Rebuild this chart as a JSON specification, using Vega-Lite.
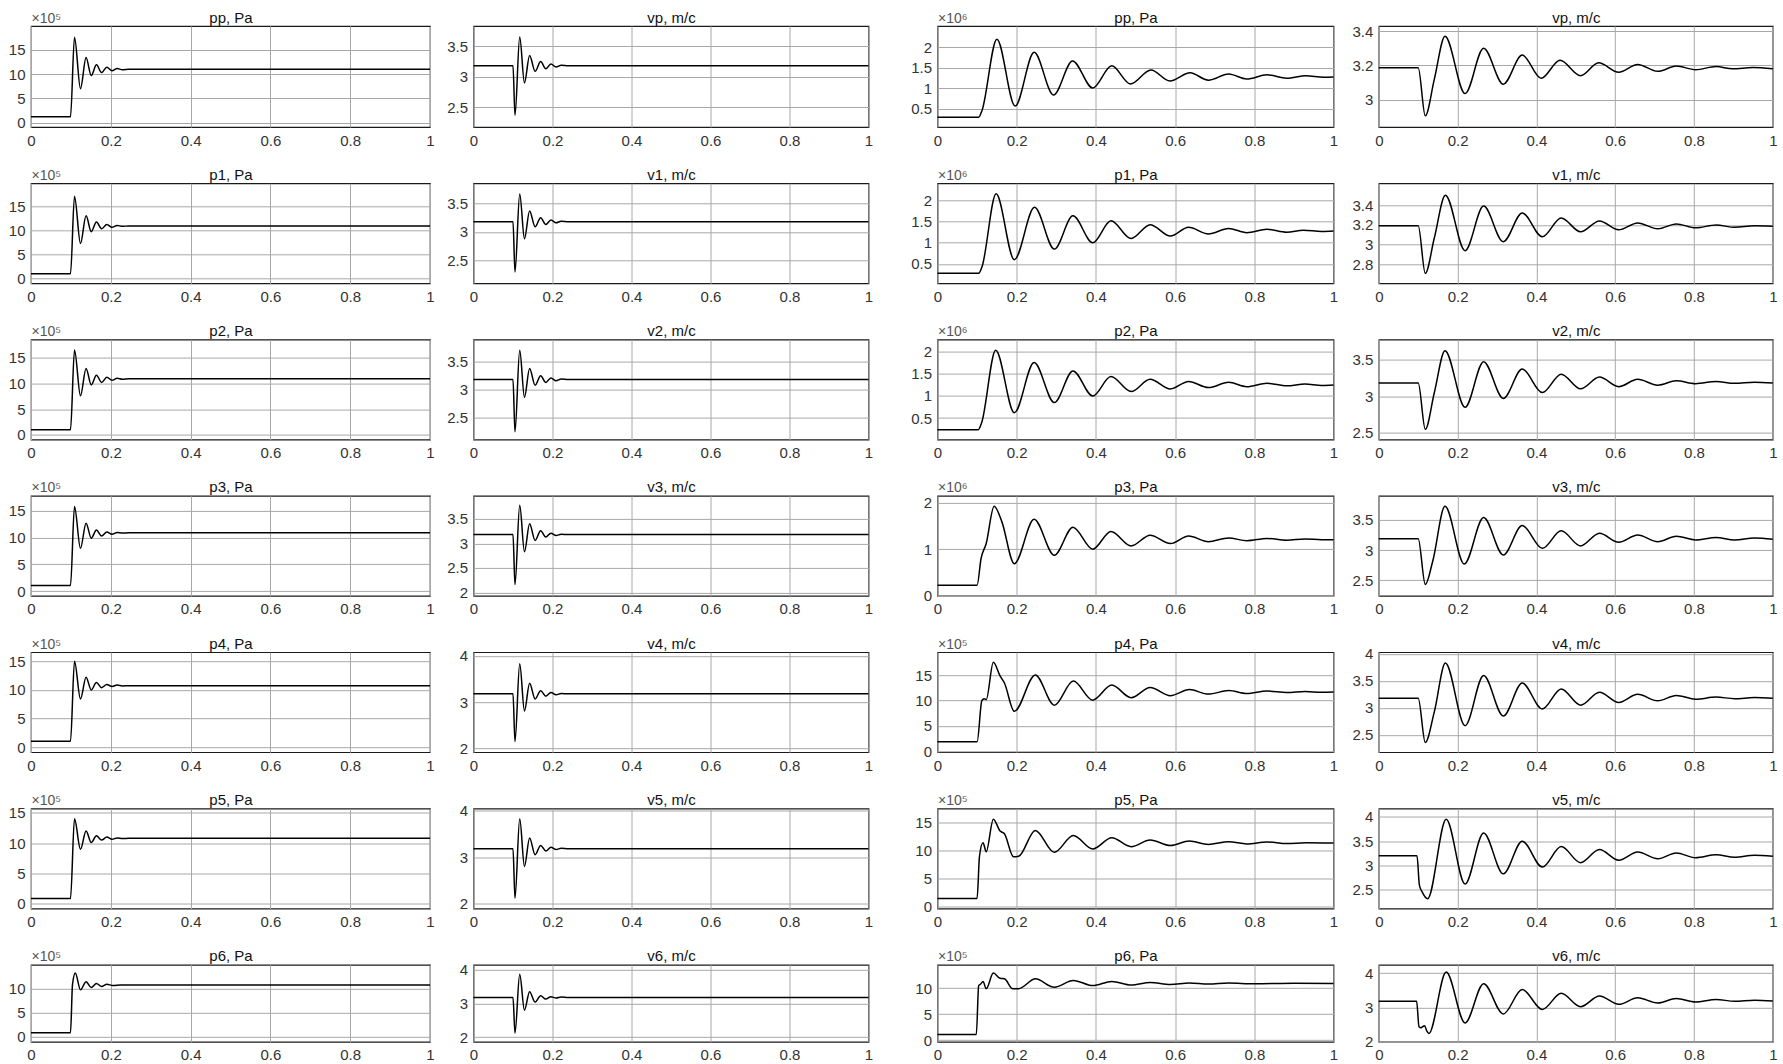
{
"$schema":"https://vega.github.io/schema/vega-lite/v6.json",
"background":"white",
"padding":{"left":7,"top":9,"right":2,"bottom":2},
"config":{
"font":"Liberation Sans",
"view":{"stroke":"#1a1a1a","strokeWidth":1.2},
"line":{"interpolate":"monotone","color":"#000","strokeWidth":1.5},
"axis":{"labelFont":"Liberation Sans","labelFontSize":15,"labelColor":"#333","ticks":false,"tickSize":0,"domain":false,"grid":true,"gridColor":"#a8a8a8","gridWidth":1,"labelPadding":6,"labelFlush":false,"labelOverlap":false,"titleFont":"Liberation Sans"},
"axisX":{"titleFontSize":15,"titleFontWeight":"normal","titleColor":"#111","titleAlign":"center","titleBaseline":"alphabetic","titlePadding":0},
"axisY":{"titleAngle":0,"titleAlign":"left","titleBaseline":"alphabetic","titleX":0,"titleY":-4,"titleFontSize":14,"titleFontWeight":"normal","titleColor":"#555"}
},
"spacing":35.5,
"hconcat":[
{"spacing":10.5,"hconcat":[
{"vconcat":[
{"width":399,"height":101,"data":{"values":[{"t":0,"v":1.2},{"t":0.099,"v":1.2},{"t":0.109,"v":17.6},{"t":0.124,"v":7.0},{"t":0.138,"v":13.4},{"t":0.151,"v":9.7},{"t":0.164,"v":11.9},{"t":0.177,"v":10.3},{"t":0.19,"v":11.4},{"t":0.203,"v":10.7},{"t":0.216,"v":11.15},{"t":0.229,"v":10.9},{"t":0.245,"v":11.0},{"t":1,"v":11.0}]},"mark":"line","encoding":{"x":{"field":"t","type":"quantitative","scale":{"domain":[0,1],"nice":false},"axis":{"values":[0,0.2,0.4,0.6,0.8,1],"format":".6~g","title":"pp, Pa","titleX":199.5,"titleY":-105}},"y":{"field":"v","type":"quantitative","scale":{"domain":[-0.9,19.9],"nice":false,"zero":false},"axis":{"values":[0,5,10,15],"format":".6~g","title":"×10⁵"}}}},
{"width":399,"height":100,"data":{"values":[{"t":0,"v":1.0},{"t":0.099,"v":1.0},{"t":0.109,"v":17.2},{"t":0.124,"v":7.3},{"t":0.138,"v":13.1},{"t":0.151,"v":9.8},{"t":0.164,"v":11.8},{"t":0.177,"v":10.4},{"t":0.19,"v":11.3},{"t":0.203,"v":10.7},{"t":0.216,"v":11.1},{"t":0.229,"v":10.9},{"t":0.245,"v":11.0},{"t":1,"v":11.0}]},"mark":"line","encoding":{"x":{"field":"t","type":"quantitative","scale":{"domain":[0,1],"nice":false},"axis":{"values":[0,0.2,0.4,0.6,0.8,1],"format":".6~g","title":"p1, Pa","titleX":199.5,"titleY":-104}},"y":{"field":"v","type":"quantitative","scale":{"domain":[-1.0,19.9],"nice":false,"zero":false},"axis":{"values":[0,5,10,15],"format":".6~g","title":"×10⁵"}}}},
{"width":399,"height":100,"data":{"values":[{"t":0,"v":1.0},{"t":0.099,"v":1.0},{"t":0.109,"v":16.5},{"t":0.124,"v":7.6},{"t":0.138,"v":12.9},{"t":0.151,"v":9.7},{"t":0.164,"v":11.6},{"t":0.177,"v":10.2},{"t":0.19,"v":11.2},{"t":0.203,"v":10.6},{"t":0.216,"v":11.0},{"t":0.229,"v":10.8},{"t":0.245,"v":10.9},{"t":1,"v":10.9}]},"mark":"line","encoding":{"x":{"field":"t","type":"quantitative","scale":{"domain":[0,1],"nice":false},"axis":{"values":[0,0.2,0.4,0.6,0.8,1],"format":".6~g","title":"p2, Pa","titleX":199.5,"titleY":-104}},"y":{"field":"v","type":"quantitative","scale":{"domain":[-0.9,18.5],"nice":false,"zero":false},"axis":{"values":[0,5,10,15],"format":".6~g","title":"×10⁵"}}}},
{"width":399,"height":100,"data":{"values":[{"t":0,"v":1.05},{"t":0.099,"v":1.05},{"t":0.109,"v":15.8},{"t":0.124,"v":8.0},{"t":0.138,"v":12.7},{"t":0.151,"v":9.9},{"t":0.164,"v":11.4},{"t":0.177,"v":10.3},{"t":0.19,"v":11.05},{"t":0.203,"v":10.65},{"t":0.216,"v":10.95},{"t":0.229,"v":10.85},{"t":0.245,"v":10.9},{"t":1,"v":10.9}]},"mark":"line","encoding":{"x":{"field":"t","type":"quantitative","scale":{"domain":[0,1],"nice":false},"axis":{"values":[0,0.2,0.4,0.6,0.8,1],"format":".6~g","title":"p3, Pa","titleX":199.5,"titleY":-104}},"y":{"field":"v","type":"quantitative","scale":{"domain":[-0.9,17.8],"nice":false,"zero":false},"axis":{"values":[0,5,10,15],"format":".6~g","title":"×10⁵"}}}},
{"width":399,"height":100,"data":{"values":[{"t":0,"v":1.0},{"t":0.099,"v":1.0},{"t":0.109,"v":15.0},{"t":0.124,"v":8.4},{"t":0.138,"v":12.2},{"t":0.151,"v":10.0},{"t":0.164,"v":11.3},{"t":0.177,"v":10.4},{"t":0.19,"v":10.95},{"t":0.203,"v":10.6},{"t":0.216,"v":10.85},{"t":0.229,"v":10.7},{"t":0.245,"v":10.75},{"t":1,"v":10.75}]},"mark":"line","encoding":{"x":{"field":"t","type":"quantitative","scale":{"domain":[0,1],"nice":false},"axis":{"values":[0,0.2,0.4,0.6,0.8,1],"format":".6~g","title":"p4, Pa","titleX":199.5,"titleY":-104}},"y":{"field":"v","type":"quantitative","scale":{"domain":[-0.9,16.6],"nice":false,"zero":false},"axis":{"values":[0,5,10,15],"format":".6~g","title":"×10⁵"}}}},
{"width":399,"height":100,"data":{"values":[{"t":0,"v":0.9},{"t":0.099,"v":0.9},{"t":0.109,"v":14.0},{"t":0.124,"v":9.0},{"t":0.138,"v":12.0},{"t":0.151,"v":10.1},{"t":0.164,"v":11.2},{"t":0.177,"v":10.5},{"t":0.19,"v":11.0},{"t":0.203,"v":10.65},{"t":0.216,"v":10.85},{"t":0.229,"v":10.75},{"t":0.245,"v":10.8},{"t":1,"v":10.8}]},"mark":"line","encoding":{"x":{"field":"t","type":"quantitative","scale":{"domain":[0,1],"nice":false},"axis":{"values":[0,0.2,0.4,0.6,0.8,1],"format":".6~g","title":"p5, Pa","titleX":199.5,"titleY":-104}},"y":{"field":"v","type":"quantitative","scale":{"domain":[-0.75,15.7],"nice":false,"zero":false},"axis":{"values":[0,5,10,15],"format":".6~g","title":"×10⁵"}}}},
{"width":399,"height":77,"data":{"values":[{"t":0,"v":0.8},{"t":0.099,"v":0.8},{"t":0.104,"v":10.8},{"t":0.111,"v":13.2},{"t":0.124,"v":9.7},{"t":0.138,"v":11.4},{"t":0.151,"v":10.2},{"t":0.164,"v":11.0},{"t":0.177,"v":10.4},{"t":0.19,"v":10.85},{"t":0.205,"v":10.6},{"t":0.225,"v":10.7},{"t":1,"v":10.7}]},"mark":"line","encoding":{"x":{"field":"t","type":"quantitative","scale":{"domain":[0,1],"nice":false},"axis":{"values":[0,0.2,0.4,0.6,0.8,1],"format":".6~g","title":"p6, Pa","titleX":199.5,"titleY":-81}},"y":{"field":"v","type":"quantitative","scale":{"domain":[-1.1,14.9],"nice":false,"zero":false},"axis":{"values":[0,5,10],"format":".6~g","title":"×10⁵"}}}}
],"spacing":56.3,"bounds":"flush"},
{"vconcat":[
{"width":395,"height":101,"data":{"values":[{"t":0,"v":3.18},{"t":0.1,"v":3.18},{"t":0.105,"v":2.37},{"t":0.117,"v":3.65},{"t":0.129,"v":2.9},{"t":0.142,"v":3.35},{"t":0.156,"v":3.09},{"t":0.17,"v":3.25},{"t":0.183,"v":3.13},{"t":0.196,"v":3.21},{"t":0.209,"v":3.16},{"t":0.222,"v":3.19},{"t":0.24,"v":3.18},{"t":1,"v":3.18}]},"mark":"line","encoding":{"x":{"field":"t","type":"quantitative","scale":{"domain":[0,1],"nice":false},"axis":{"values":[0,0.2,0.4,0.6,0.8,1],"format":".6~g","title":"vp, m/c","titleX":197.5,"titleY":-105}},"y":{"field":"v","type":"quantitative","scale":{"domain":[2.18,3.83],"nice":false,"zero":false},"axis":{"values":[2.5,3,3.5],"format":".6~g","title":null}}}},
{"width":395,"height":100,"data":{"values":[{"t":0,"v":3.18},{"t":0.1,"v":3.18},{"t":0.105,"v":2.29},{"t":0.117,"v":3.67},{"t":0.129,"v":2.88},{"t":0.142,"v":3.37},{"t":0.156,"v":3.09},{"t":0.17,"v":3.25},{"t":0.183,"v":3.13},{"t":0.196,"v":3.21},{"t":0.209,"v":3.16},{"t":0.222,"v":3.19},{"t":0.24,"v":3.18},{"t":1,"v":3.18}]},"mark":"line","encoding":{"x":{"field":"t","type":"quantitative","scale":{"domain":[0,1],"nice":false},"axis":{"values":[0,0.2,0.4,0.6,0.8,1],"format":".6~g","title":"v1, m/c","titleX":197.5,"titleY":-104}},"y":{"field":"v","type":"quantitative","scale":{"domain":[2.09,3.86],"nice":false,"zero":false},"axis":{"values":[2.5,3,3.5],"format":".6~g","title":null}}}},
{"width":395,"height":100,"data":{"values":[{"t":0,"v":3.18},{"t":0.1,"v":3.18},{"t":0.105,"v":2.24},{"t":0.117,"v":3.71},{"t":0.129,"v":2.86},{"t":0.142,"v":3.38},{"t":0.156,"v":3.08},{"t":0.17,"v":3.25},{"t":0.183,"v":3.13},{"t":0.196,"v":3.21},{"t":0.209,"v":3.16},{"t":0.222,"v":3.19},{"t":0.24,"v":3.18},{"t":1,"v":3.18}]},"mark":"line","encoding":{"x":{"field":"t","type":"quantitative","scale":{"domain":[0,1],"nice":false},"axis":{"values":[0,0.2,0.4,0.6,0.8,1],"format":".6~g","title":"v2, m/c","titleX":197.5,"titleY":-104}},"y":{"field":"v","type":"quantitative","scale":{"domain":[2.1,3.9],"nice":false,"zero":false},"axis":{"values":[2.5,3,3.5],"format":".6~g","title":null}}}},
{"width":395,"height":100,"data":{"values":[{"t":0,"v":3.18},{"t":0.1,"v":3.18},{"t":0.105,"v":2.16},{"t":0.117,"v":3.78},{"t":0.129,"v":2.83},{"t":0.142,"v":3.4},{"t":0.156,"v":3.06},{"t":0.17,"v":3.26},{"t":0.183,"v":3.13},{"t":0.196,"v":3.21},{"t":0.209,"v":3.16},{"t":0.222,"v":3.19},{"t":0.24,"v":3.18},{"t":1,"v":3.18}]},"mark":"line","encoding":{"x":{"field":"t","type":"quantitative","scale":{"domain":[0,1],"nice":false},"axis":{"values":[0,0.2,0.4,0.6,0.8,1],"format":".6~g","title":"v3, m/c","titleX":197.5,"titleY":-104}},"y":{"field":"v","type":"quantitative","scale":{"domain":[1.93,3.97],"nice":false,"zero":false},"axis":{"values":[2,2.5,3,3.5],"format":".6~g","title":null}}}},
{"width":395,"height":100,"data":{"values":[{"t":0,"v":3.18},{"t":0.1,"v":3.18},{"t":0.105,"v":2.15},{"t":0.117,"v":3.83},{"t":0.129,"v":2.81},{"t":0.142,"v":3.41},{"t":0.156,"v":3.07},{"t":0.17,"v":3.25},{"t":0.183,"v":3.13},{"t":0.196,"v":3.21},{"t":0.209,"v":3.16},{"t":0.222,"v":3.19},{"t":0.24,"v":3.18},{"t":1,"v":3.18}]},"mark":"line","encoding":{"x":{"field":"t","type":"quantitative","scale":{"domain":[0,1],"nice":false},"axis":{"values":[0,0.2,0.4,0.6,0.8,1],"format":".6~g","title":"v4, m/c","titleX":197.5,"titleY":-104}},"y":{"field":"v","type":"quantitative","scale":{"domain":[1.92,4.08],"nice":false,"zero":false},"axis":{"values":[2,3,4],"format":".6~g","title":null}}}},
{"width":395,"height":100,"data":{"values":[{"t":0,"v":3.18},{"t":0.1,"v":3.18},{"t":0.105,"v":2.12},{"t":0.117,"v":3.82},{"t":0.129,"v":2.8},{"t":0.142,"v":3.41},{"t":0.156,"v":3.05},{"t":0.17,"v":3.25},{"t":0.183,"v":3.13},{"t":0.196,"v":3.21},{"t":0.209,"v":3.16},{"t":0.222,"v":3.19},{"t":0.24,"v":3.18},{"t":1,"v":3.18}]},"mark":"line","encoding":{"x":{"field":"t","type":"quantitative","scale":{"domain":[0,1],"nice":false},"axis":{"values":[0,0.2,0.4,0.6,0.8,1],"format":".6~g","title":"v5, m/c","titleX":197.5,"titleY":-104}},"y":{"field":"v","type":"quantitative","scale":{"domain":[1.9,4.04],"nice":false,"zero":false},"axis":{"values":[2,3,4],"format":".6~g","title":null}}}},
{"width":395,"height":77,"data":{"values":[{"t":0,"v":3.18},{"t":0.1,"v":3.18},{"t":0.105,"v":2.12},{"t":0.117,"v":3.87},{"t":0.129,"v":2.8},{"t":0.142,"v":3.35},{"t":0.156,"v":3.04},{"t":0.17,"v":3.23},{"t":0.183,"v":3.13},{"t":0.196,"v":3.2},{"t":0.209,"v":3.16},{"t":0.222,"v":3.19},{"t":0.24,"v":3.18},{"t":1,"v":3.18}]},"mark":"line","encoding":{"x":{"field":"t","type":"quantitative","scale":{"domain":[0,1],"nice":false},"axis":{"values":[0,0.2,0.4,0.6,0.8,1],"format":".6~g","title":"v6, m/c","titleX":197.5,"titleY":-81}},"y":{"field":"v","type":"quantitative","scale":{"domain":[1.86,4.15],"nice":false,"zero":false},"axis":{"values":[2,3,4],"format":".6~g","title":null}}}}
],"spacing":56.3,"bounds":"flush"}
]},
{"spacing":12.3,"hconcat":[
{"vconcat":[
{"width":396,"height":101,"data":{"values":[{"t":0,"v":0.3},{"t":0.104,"v":0.3},{"t":0.112,"v":0.45},{"t":0.15,"v":2.2},{"t":0.196,"v":0.57},{"t":0.244,"v":1.88},{"t":0.293,"v":0.84},{"t":0.341,"v":1.67},{"t":0.392,"v":1.01},{"t":0.44,"v":1.55},{"t":0.487,"v":1.11},{"t":0.539,"v":1.45},{"t":0.587,"v":1.18},{"t":0.638,"v":1.38},{"t":0.684,"v":1.2},{"t":0.735,"v":1.35},{"t":0.781,"v":1.23},{"t":0.832,"v":1.33},{"t":0.882,"v":1.25},{"t":0.93,"v":1.31},{"t":0.975,"v":1.27},{"t":1,"v":1.28}]},"mark":"line","encoding":{"x":{"field":"t","type":"quantitative","scale":{"domain":[0,1],"nice":false},"axis":{"values":[0,0.2,0.4,0.6,0.8,1],"format":".6~g","title":"pp, Pa","titleX":198,"titleY":-105}},"y":{"field":"v","type":"quantitative","scale":{"domain":[0.06,2.52],"nice":false,"zero":false},"axis":{"values":[0.5,1,1.5,2],"format":".6~g","title":"×10⁶"}}}},
{"width":396,"height":100,"data":{"values":[{"t":0,"v":0.28},{"t":0.104,"v":0.28},{"t":0.112,"v":0.42},{"t":0.148,"v":2.16},{"t":0.194,"v":0.6},{"t":0.245,"v":1.84},{"t":0.295,"v":0.85},{"t":0.342,"v":1.64},{"t":0.392,"v":1.0},{"t":0.438,"v":1.52},{"t":0.489,"v":1.1},{"t":0.537,"v":1.43},{"t":0.588,"v":1.16},{"t":0.634,"v":1.37},{"t":0.684,"v":1.21},{"t":0.735,"v":1.34},{"t":0.781,"v":1.24},{"t":0.832,"v":1.32},{"t":0.882,"v":1.25},{"t":0.924,"v":1.3},{"t":0.97,"v":1.27},{"t":1,"v":1.28}]},"mark":"line","encoding":{"x":{"field":"t","type":"quantitative","scale":{"domain":[0,1],"nice":false},"axis":{"values":[0,0.2,0.4,0.6,0.8,1],"format":".6~g","title":"p1, Pa","titleX":198,"titleY":-104}},"y":{"field":"v","type":"quantitative","scale":{"domain":[0.04,2.41],"nice":false,"zero":false},"axis":{"values":[0.5,1,1.5,2],"format":".6~g","title":"×10⁶"}}}},
{"width":396,"height":100,"data":{"values":[{"t":0,"v":0.235},{"t":0.103,"v":0.235},{"t":0.111,"v":0.38},{"t":0.147,"v":2.04},{"t":0.194,"v":0.62},{"t":0.244,"v":1.76},{"t":0.295,"v":0.85},{"t":0.342,"v":1.57},{"t":0.392,"v":1.0},{"t":0.438,"v":1.44},{"t":0.489,"v":1.1},{"t":0.537,"v":1.38},{"t":0.588,"v":1.16},{"t":0.634,"v":1.33},{"t":0.684,"v":1.19},{"t":0.735,"v":1.31},{"t":0.781,"v":1.21},{"t":0.832,"v":1.29},{"t":0.882,"v":1.23},{"t":0.928,"v":1.27},{"t":0.97,"v":1.24},{"t":1,"v":1.25}]},"mark":"line","encoding":{"x":{"field":"t","type":"quantitative","scale":{"domain":[0,1],"nice":false},"axis":{"values":[0,0.2,0.4,0.6,0.8,1],"format":".6~g","title":"p2, Pa","titleX":198,"titleY":-104}},"y":{"field":"v","type":"quantitative","scale":{"domain":[0.01,2.28],"nice":false,"zero":false},"axis":{"values":[0.5,1,1.5,2],"format":".6~g","title":"×10⁶"}}}},
{"width":396,"height":100,"data":{"values":[{"t":0,"v":0.23},{"t":0.1,"v":0.23},{"t":0.11,"v":0.8},{"t":0.123,"v":1.12},{"t":0.143,"v":1.92},{"t":0.162,"v":1.6},{"t":0.194,"v":0.69},{"t":0.244,"v":1.64},{"t":0.295,"v":0.87},{"t":0.342,"v":1.47},{"t":0.392,"v":1.0},{"t":0.438,"v":1.38},{"t":0.489,"v":1.07},{"t":0.537,"v":1.3},{"t":0.588,"v":1.12},{"t":0.634,"v":1.28},{"t":0.684,"v":1.16},{"t":0.735,"v":1.24},{"t":0.781,"v":1.18},{"t":0.832,"v":1.23},{"t":0.882,"v":1.19},{"t":0.928,"v":1.22},{"t":0.97,"v":1.2},{"t":1,"v":1.2}]},"mark":"line","encoding":{"x":{"field":"t","type":"quantitative","scale":{"domain":[0,1],"nice":false},"axis":{"values":[0,0.2,0.4,0.6,0.8,1],"format":".6~g","title":"p3, Pa","titleX":198,"titleY":-104}},"y":{"field":"v","type":"quantitative","scale":{"domain":[0,2.14],"nice":false,"zero":false},"axis":{"values":[0,1,2],"format":".6~g","title":"×10⁶"}}}},
{"width":396,"height":100,"data":{"values":[{"t":0,"v":1.85},{"t":0.1,"v":1.85},{"t":0.112,"v":10.0},{"t":0.118,"v":10.4},{"t":0.123,"v":10.2},{"t":0.141,"v":17.6},{"t":0.158,"v":14.9},{"t":0.169,"v":13.5},{"t":0.194,"v":7.9},{"t":0.247,"v":15.1},{"t":0.295,"v":9.1},{"t":0.343,"v":13.9},{"t":0.392,"v":10.1},{"t":0.44,"v":13.1},{"t":0.489,"v":10.6},{"t":0.537,"v":12.6},{"t":0.588,"v":11.0},{"t":0.636,"v":12.2},{"t":0.684,"v":11.3},{"t":0.735,"v":12.0},{"t":0.781,"v":11.4},{"t":0.832,"v":11.9},{"t":0.882,"v":11.6},{"t":0.928,"v":11.8},{"t":0.97,"v":11.65},{"t":1,"v":11.7}]},"mark":"line","encoding":{"x":{"field":"t","type":"quantitative","scale":{"domain":[0,1],"nice":false},"axis":{"values":[0,0.2,0.4,0.6,0.8,1],"format":".6~g","title":"p4, Pa","titleX":198,"titleY":-104}},"y":{"field":"v","type":"quantitative","scale":{"domain":[-0.2,19.6],"nice":false,"zero":false},"axis":{"values":[0,5,10,15],"format":".6~g","title":"×10⁵"}}}},
{"width":396,"height":100,"data":{"values":[{"t":0,"v":1.5},{"t":0.1,"v":1.5},{"t":0.106,"v":9.0},{"t":0.115,"v":11.4},{"t":0.123,"v":9.8},{"t":0.141,"v":15.6},{"t":0.158,"v":13.5},{"t":0.169,"v":13.0},{"t":0.192,"v":8.9},{"t":0.205,"v":9.0},{"t":0.247,"v":13.6},{"t":0.295,"v":9.7},{"t":0.343,"v":12.7},{"t":0.392,"v":10.3},{"t":0.44,"v":12.3},{"t":0.489,"v":10.7},{"t":0.537,"v":11.9},{"t":0.588,"v":10.9},{"t":0.636,"v":11.7},{"t":0.684,"v":11.1},{"t":0.735,"v":11.6},{"t":0.781,"v":11.2},{"t":0.832,"v":11.55},{"t":0.882,"v":11.25},{"t":0.93,"v":11.4},{"t":1,"v":11.35}]},"mark":"line","encoding":{"x":{"field":"t","type":"quantitative","scale":{"domain":[0,1],"nice":false},"axis":{"values":[0,0.2,0.4,0.6,0.8,1],"format":".6~g","title":"p5, Pa","titleX":198,"titleY":-104}},"y":{"field":"v","type":"quantitative","scale":{"domain":[-0.3,17.5],"nice":false,"zero":false},"axis":{"values":[0,5,10,15],"format":".6~g","title":"×10⁵"}}}},
{"width":396,"height":77,"data":{"values":[{"t":0,"v":1.1},{"t":0.098,"v":1.1},{"t":0.104,"v":10.5},{"t":0.109,"v":10.8},{"t":0.115,"v":11.3},{"t":0.123,"v":9.9},{"t":0.141,"v":12.9},{"t":0.158,"v":11.9},{"t":0.169,"v":11.8},{"t":0.19,"v":9.9},{"t":0.205,"v":9.9},{"t":0.247,"v":11.8},{"t":0.295,"v":10.2},{"t":0.343,"v":11.5},{"t":0.392,"v":10.5},{"t":0.44,"v":11.3},{"t":0.489,"v":10.6},{"t":0.537,"v":11.1},{"t":0.588,"v":10.7},{"t":0.636,"v":11.0},{"t":0.684,"v":10.8},{"t":0.735,"v":11.0},{"t":0.8,"v":10.85},{"t":0.9,"v":10.95},{"t":1,"v":10.9}]},"mark":"line","encoding":{"x":{"field":"t","type":"quantitative","scale":{"domain":[0,1],"nice":false},"axis":{"values":[0,0.2,0.4,0.6,0.8,1],"format":".6~g","title":"p6, Pa","titleX":198,"titleY":-81}},"y":{"field":"v","type":"quantitative","scale":{"domain":[-0.3,14.5],"nice":false,"zero":false},"axis":{"values":[0,5,10],"format":".6~g","title":"×10⁵"}}}}
],"spacing":56.3,"bounds":"flush"},
{"vconcat":[
{"width":394,"height":101,"data":{"values":[{"t":0,"v":3.186},{"t":0.1,"v":3.186},{"t":0.118,"v":2.905},{"t":0.141,"v":3.12},{"t":0.168,"v":3.37},{"t":0.219,"v":3.035},{"t":0.266,"v":3.3},{"t":0.316,"v":3.09},{"t":0.364,"v":3.26},{"t":0.412,"v":3.125},{"t":0.46,"v":3.23},{"t":0.512,"v":3.14},{"t":0.558,"v":3.215},{"t":0.609,"v":3.16},{"t":0.657,"v":3.205},{"t":0.708,"v":3.165},{"t":0.755,"v":3.196},{"t":0.804,"v":3.175},{"t":0.856,"v":3.193},{"t":0.898,"v":3.18},{"t":0.949,"v":3.187},{"t":1,"v":3.18}]},"mark":"line","encoding":{"x":{"field":"t","type":"quantitative","scale":{"domain":[0,1],"nice":false},"axis":{"values":[0,0.2,0.4,0.6,0.8,1],"format":".6~g","title":"vp, m/c","titleX":197,"titleY":-105}},"y":{"field":"v","type":"quantitative","scale":{"domain":[2.84,3.43],"nice":false,"zero":false},"axis":{"values":[3,3.2,3.4],"format":".6~g","title":null}}}},
{"width":394,"height":100,"data":{"values":[{"t":0,"v":3.19},{"t":0.1,"v":3.19},{"t":0.118,"v":2.71},{"t":0.141,"v":3.07},{"t":0.169,"v":3.5},{"t":0.219,"v":2.94},{"t":0.266,"v":3.39},{"t":0.316,"v":3.03},{"t":0.364,"v":3.32},{"t":0.415,"v":3.08},{"t":0.463,"v":3.27},{"t":0.512,"v":3.13},{"t":0.56,"v":3.24},{"t":0.609,"v":3.15},{"t":0.657,"v":3.22},{"t":0.708,"v":3.16},{"t":0.755,"v":3.21},{"t":0.804,"v":3.17},{"t":0.856,"v":3.2},{"t":0.903,"v":3.175},{"t":0.953,"v":3.19},{"t":1,"v":3.185}]},"mark":"line","encoding":{"x":{"field":"t","type":"quantitative","scale":{"domain":[0,1],"nice":false},"axis":{"values":[0,0.2,0.4,0.6,0.8,1],"format":".6~g","title":"v1, m/c","titleX":197,"titleY":-104}},"y":{"field":"v","type":"quantitative","scale":{"domain":[2.61,3.62],"nice":false,"zero":false},"axis":{"values":[2.8,3,3.2,3.4],"format":".6~g","title":null}}}},
{"width":394,"height":100,"data":{"values":[{"t":0,"v":3.18},{"t":0.1,"v":3.18},{"t":0.118,"v":2.55},{"t":0.141,"v":3.05},{"t":0.168,"v":3.62},{"t":0.219,"v":2.85},{"t":0.266,"v":3.47},{"t":0.316,"v":2.97},{"t":0.364,"v":3.37},{"t":0.415,"v":3.05},{"t":0.463,"v":3.3},{"t":0.512,"v":3.1},{"t":0.56,"v":3.26},{"t":0.609,"v":3.13},{"t":0.657,"v":3.23},{"t":0.708,"v":3.15},{"t":0.755,"v":3.21},{"t":0.804,"v":3.17},{"t":0.856,"v":3.2},{"t":0.903,"v":3.175},{"t":0.953,"v":3.19},{"t":1,"v":3.18}]},"mark":"line","encoding":{"x":{"field":"t","type":"quantitative","scale":{"domain":[0,1],"nice":false},"axis":{"values":[0,0.2,0.4,0.6,0.8,1],"format":".6~g","title":"v2, m/c","titleX":197,"titleY":-104}},"y":{"field":"v","type":"quantitative","scale":{"domain":[2.41,3.77],"nice":false,"zero":false},"axis":{"values":[2.5,3,3.5],"format":".6~g","title":null}}}},
{"width":394,"height":100,"data":{"values":[{"t":0,"v":3.19},{"t":0.1,"v":3.19},{"t":0.118,"v":2.43},{"t":0.137,"v":2.82},{"t":0.168,"v":3.73},{"t":0.217,"v":2.77},{"t":0.266,"v":3.54},{"t":0.316,"v":2.92},{"t":0.364,"v":3.41},{"t":0.415,"v":3.03},{"t":0.463,"v":3.32},{"t":0.512,"v":3.07},{"t":0.56,"v":3.28},{"t":0.609,"v":3.13},{"t":0.657,"v":3.25},{"t":0.708,"v":3.14},{"t":0.755,"v":3.23},{"t":0.804,"v":3.17},{"t":0.856,"v":3.21},{"t":0.903,"v":3.17},{"t":0.953,"v":3.2},{"t":1,"v":3.18}]},"mark":"line","encoding":{"x":{"field":"t","type":"quantitative","scale":{"domain":[0,1],"nice":false},"axis":{"values":[0,0.2,0.4,0.6,0.8,1],"format":".6~g","title":"v3, m/c","titleX":197,"titleY":-104}},"y":{"field":"v","type":"quantitative","scale":{"domain":[2.24,3.9],"nice":false,"zero":false},"axis":{"values":[2.5,3,3.5],"format":".6~g","title":null}}}},
{"width":394,"height":100,"data":{"values":[{"t":0,"v":3.18},{"t":0.1,"v":3.18},{"t":0.118,"v":2.36},{"t":0.141,"v":2.93},{"t":0.169,"v":3.83},{"t":0.219,"v":2.67},{"t":0.266,"v":3.6},{"t":0.316,"v":2.85},{"t":0.364,"v":3.46},{"t":0.415,"v":2.98},{"t":0.463,"v":3.35},{"t":0.512,"v":3.05},{"t":0.56,"v":3.29},{"t":0.609,"v":3.1},{"t":0.657,"v":3.25},{"t":0.708,"v":3.13},{"t":0.755,"v":3.23},{"t":0.804,"v":3.16},{"t":0.856,"v":3.2},{"t":0.903,"v":3.17},{"t":0.953,"v":3.19},{"t":1,"v":3.18}]},"mark":"line","encoding":{"x":{"field":"t","type":"quantitative","scale":{"domain":[0,1],"nice":false},"axis":{"values":[0,0.2,0.4,0.6,0.8,1],"format":".6~g","title":"v4, m/c","titleX":197,"titleY":-104}},"y":{"field":"v","type":"quantitative","scale":{"domain":[2.18,4.03],"nice":false,"zero":false},"axis":{"values":[2.5,3,3.5,4],"format":".6~g","title":null}}}},
{"width":394,"height":100,"data":{"values":[{"t":0,"v":3.2},{"t":0.097,"v":3.2},{"t":0.103,"v":2.6},{"t":0.11,"v":2.46},{"t":0.124,"v":2.32},{"t":0.171,"v":3.95},{"t":0.219,"v":2.62},{"t":0.266,"v":3.67},{"t":0.316,"v":2.83},{"t":0.364,"v":3.5},{"t":0.415,"v":2.97},{"t":0.463,"v":3.39},{"t":0.512,"v":3.06},{"t":0.56,"v":3.33},{"t":0.609,"v":3.11},{"t":0.657,"v":3.28},{"t":0.708,"v":3.14},{"t":0.755,"v":3.26},{"t":0.804,"v":3.16},{"t":0.856,"v":3.22},{"t":0.903,"v":3.17},{"t":0.953,"v":3.21},{"t":1,"v":3.19}]},"mark":"line","encoding":{"x":{"field":"t","type":"quantitative","scale":{"domain":[0,1],"nice":false},"axis":{"values":[0,0.2,0.4,0.6,0.8,1],"format":".6~g","title":"v5, m/c","titleX":197,"titleY":-104}},"y":{"field":"v","type":"quantitative","scale":{"domain":[2.12,4.17],"nice":false,"zero":false},"axis":{"values":[2.5,3,3.5,4],"format":".6~g","title":null}}}},
{"width":394,"height":77,"data":{"values":[{"t":0,"v":3.18},{"t":0.096,"v":3.18},{"t":0.102,"v":2.44},{"t":0.107,"v":2.41},{"t":0.116,"v":2.47},{"t":0.122,"v":2.31},{"t":0.127,"v":2.24},{"t":0.171,"v":4.03},{"t":0.219,"v":2.55},{"t":0.266,"v":3.69},{"t":0.316,"v":2.81},{"t":0.364,"v":3.52},{"t":0.415,"v":2.94},{"t":0.463,"v":3.41},{"t":0.512,"v":3.02},{"t":0.56,"v":3.33},{"t":0.609,"v":3.09},{"t":0.657,"v":3.28},{"t":0.708,"v":3.13},{"t":0.755,"v":3.26},{"t":0.804,"v":3.16},{"t":0.856,"v":3.23},{"t":0.903,"v":3.18},{"t":0.953,"v":3.21},{"t":1,"v":3.19}]},"mark":"line","encoding":{"x":{"field":"t","type":"quantitative","scale":{"domain":[0,1],"nice":false},"axis":{"values":[0,0.2,0.4,0.6,0.8,1],"format":".6~g","title":"v6, m/c","titleX":197,"titleY":-81}},"y":{"field":"v","type":"quantitative","scale":{"domain":[2.0,4.24],"nice":false,"zero":false},"axis":{"values":[2,3,4],"format":".6~g","title":null}}}}
],"spacing":56.3,"bounds":"flush"}
]}
]
}
